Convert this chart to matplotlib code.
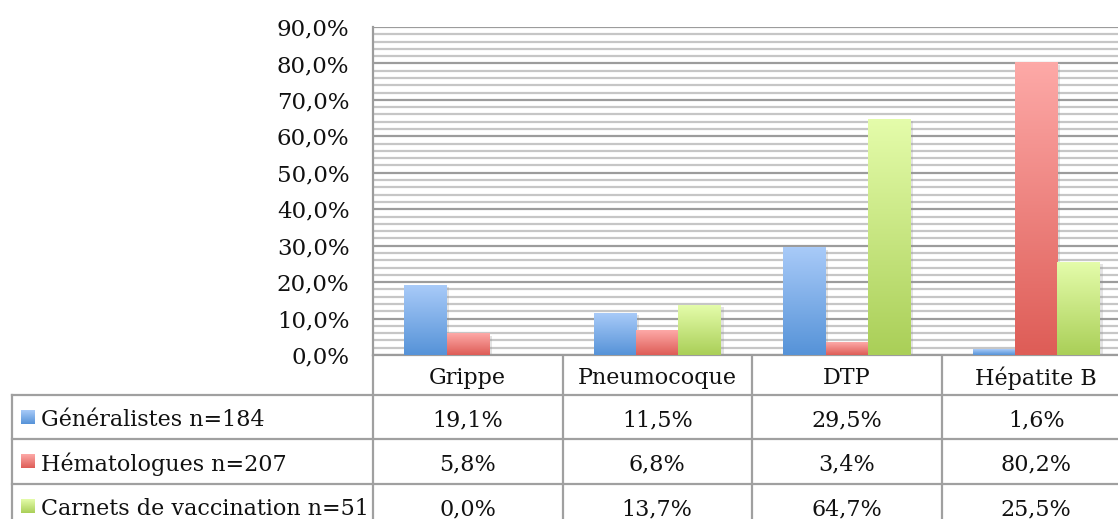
import numpy as np
import matplotlib
matplotlib.use("Agg")
import matplotlib.pyplot as plt
import matplotlib.patheffects as pe
from matplotlib.ticker import MultipleLocator, FuncFormatter

plt.rcParams['font.family'] = ['DejaVu Serif']

# data
categories = ['Grippe', 'Pneumocoque', 'DTP', 'Hépatite B']
series_names = ['Généralistes n=184', 'Hématologues n=207', 'Carnets de vaccination n=51']
generalistes = [19.1, 11.5, 29.5, 1.6]
hematologues = [5.8, 6.8, 3.4, 80.2]
carnets = [0.0, 13.7, 64.7, 25.5]
series = [generalistes, hematologues, carnets]

# gradient colours (top, bottom) for each series
grad = [('#a8caf8', '#5693d8'),
        ('#fda9a7', '#de5d57'),
        ('#e4fcaa', '#aacf58')]

W, H = 1118, 519
fig = plt.figure(figsize=(W / 100, H / 100), dpi=100)
fig.patch.set_facecolor('white')

ax = fig.add_axes([373 / W, (H - 355) / H, (1131 - 373) / W, (355 - 27) / H])
ax.set_xlim(-0.5, len(categories) - 0.5)
ax.set_ylim(0, 90)

ax.yaxis.set_major_locator(MultipleLocator(10))
ax.yaxis.set_minor_locator(MultipleLocator(2))
ax.yaxis.set_major_formatter(FuncFormatter(lambda v, p: f"{v:.1f}%".replace('.', ',')))
ax.grid(which='minor', axis='y', color='#c6c6c6', lw=1.6, zorder=0)
ax.grid(which='major', axis='y', color='#9c9c9c', lw=1.6, zorder=0)
ax.set_axisbelow(True)
ax.tick_params(axis='y', which='both', length=0, labelsize=16.5, pad=17, labelcolor='#111111')
ax.tick_params(axis='x', length=0, labelbottom=False)
for s in ['top', 'right']:
    ax.spines[s].set_visible(False)
for s in ['left', 'bottom']:
    ax.spines[s].set_color('#9c9c9c')
    ax.spines[s].set_linewidth(1.6)


def gradient_img(top, bottom, n=64):
    t = np.linspace(0, 1, n)[:, None]
    c0 = np.array(matplotlib.colors.to_rgb(top))
    c1 = np.array(matplotlib.colors.to_rgb(bottom))
    return (c0 * (1 - t) + c1 * t)[:, None, :]


x = np.arange(len(categories))
bw = 0.224
for i, (vals, (ctop, cbot)) in enumerate(zip(series, grad)):
    bars = ax.bar(x + (i - 1) * bw, vals, bw, color=cbot, zorder=2,
                  path_effects=[pe.SimplePatchShadow(offset=(2, -1.5), shadow_rgbFace='#909090', alpha=0.25),
                                pe.Normal()])
    for b in bars:
        if b.get_height() <= 0:
            continue
        x0, y0 = b.get_x(), b.get_y()
        ax.imshow(gradient_img(ctop, cbot), extent=[x0, x0 + b.get_width(), y0, y0 + b.get_height()],
                  aspect='auto', zorder=3, interpolation='bilinear')
ax.set_xlim(-0.5, len(categories) - 0.5)
ax.set_ylim(0, 90)

# data table below the chart, drawn in pixel coordinates
tab = fig.add_axes([0, 0, 1, 1], zorder=-1)
tab.set_xlim(0, W)
tab.set_ylim(H, 0)
tab.axis('off')

fig.canvas.draw()
bounds = [ax.transData.transform((k - 0.5, 0))[0] for k in range(len(categories) + 1)]
y_axis = H - ax.transData.transform((0, 0))[1]
row_edges = [y_axis, 395, 439, 484, 528]
left = 12
lc = '#a0a0a0'
lw = 1.6

# vertical lines
for bx in bounds:
    tab.plot([bx, bx], [row_edges[0], row_edges[-1]], color=lc, lw=lw, solid_capstyle='butt')
tab.plot([left, left], [row_edges[1], row_edges[-1]], color=lc, lw=lw)
# horizontal lines
for ry in row_edges[1:]:
    tab.plot([left, bounds[-1]], [ry, ry], color=lc, lw=lw)

txt_kw = dict(fontsize=16, color='#111111', va='center')
for k, cat in enumerate(categories):
    cx = (bounds[k] + bounds[k + 1]) / 2
    tab.text(cx, (row_edges[0] + row_edges[1]) / 2 + 3, cat, ha='center', **txt_kw)
    for r, vals in enumerate(series):
        cy = (row_edges[r + 1] + row_edges[r + 2]) / 2 + 3
        tab.text(cx, cy, f"{vals[k]:.1f}%".replace('.', ','), ha='center', **txt_kw)

for r, (name, (ctop, cbot)) in enumerate(zip(series_names, grad)):
    cy = (row_edges[r + 1] + row_edges[r + 2]) / 2
    tab.imshow(gradient_img(ctop, cbot), extent=[21, 35, cy + 7, cy - 7], aspect='auto',
               interpolation='bilinear')
    tab.text(41, cy + 3, name, ha='left', **txt_kw)
tab.set_xlim(0, W)
tab.set_ylim(H, 0)

fig.savefig('out.png', dpi=100)
